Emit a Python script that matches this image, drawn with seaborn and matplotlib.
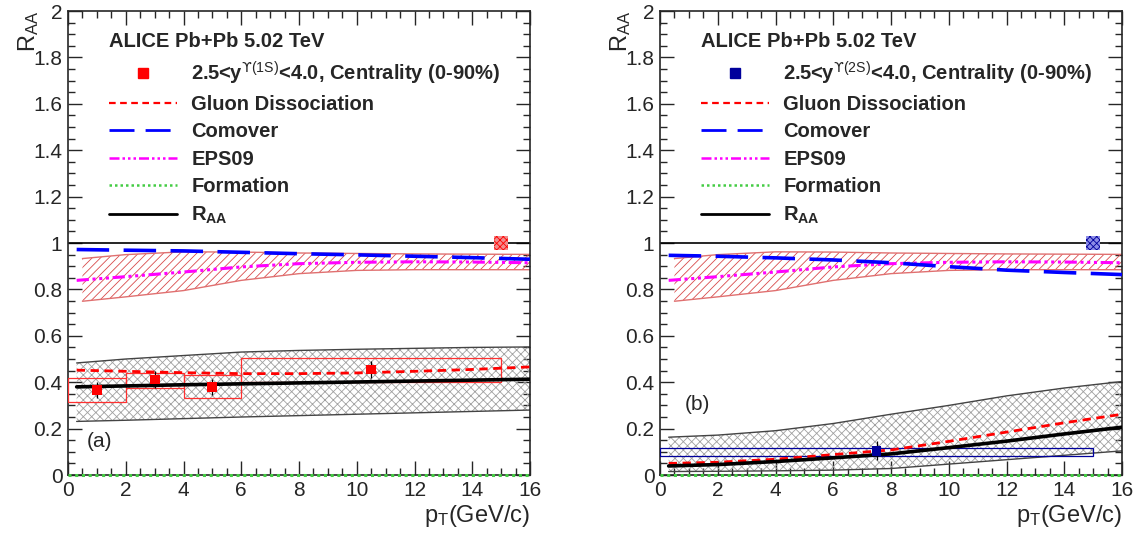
import numpy as np
import matplotlib
matplotlib.use("Agg")
import matplotlib.pyplot as plt
import seaborn as sns
from matplotlib.lines import Line2D
from matplotlib.ticker import MultipleLocator, FormatStrFormatter

# --- data ---
pt = [0.3, 2, 4, 6, 8, 10, 12, 14, 16]
pt_band = [0.5, 2, 4, 6, 8, 10, 12, 14, 16]
pt_formation = [0, 16]
formation = [0, 0]

band_hi = [0.933, 0.950, 0.962, 0.961, 0.957, 0.955, 0.953, 0.952, 0.951]
band_lo = [0.749, 0.768, 0.795, 0.839, 0.868, 0.882, 0.885, 0.885, 0.885]
eps09 = [0.839, 0.855, 0.875, 0.897, 0.911, 0.917, 0.919, 0.918, 0.915]

comover_a = [0.972, 0.969, 0.966, 0.960, 0.954, 0.949, 0.943, 0.937, 0.930]
gluon_a = [0.452, 0.447, 0.441, 0.437, 0.437, 0.440, 0.447, 0.455, 0.466]
raa_a = [0.380, 0.384, 0.389, 0.393, 0.397, 0.401, 0.405, 0.409, 0.413]
gray_hi_a = [0.483, 0.500, 0.515, 0.530, 0.537, 0.542, 0.546, 0.550, 0.552]
gray_lo_a = [0.231, 0.236, 0.243, 0.250, 0.256, 0.262, 0.268, 0.274, 0.280]

comover_b = [0.947, 0.943, 0.936, 0.927, 0.915, 0.898, 0.883, 0.873, 0.864]
gluon_b = [0.050, 0.055, 0.068, 0.088, 0.108, 0.145, 0.185, 0.225, 0.262]
raa_b = [0.039, 0.045, 0.058, 0.074, 0.091, 0.118, 0.146, 0.177, 0.206]
gray_hi_b = [0.163, 0.172, 0.191, 0.222, 0.262, 0.300, 0.341, 0.375, 0.403]
gray_lo_b = [0.015, 0.016, 0.018, 0.021, 0.028, 0.047, 0.066, 0.085, 0.104]

# ALICE points
data_x_a = [1, 3, 5, 10.5]
data_y_a = [0.366, 0.412, 0.380, 0.455]
data_stat_a = [0.035, 0.035, 0.035, 0.035]
sys_lo_a = [0.316, 0.377, 0.330, 0.399]
sys_hi_a = [0.419, 0.440, 0.429, 0.505]
bin_lo_a = [0, 2, 4, 6]
bin_hi_a = [2, 4, 6, 15]

data_x_b = [7.5]
data_y_b = [0.105]
data_stat_b = [0.04]
sys_lo_b = [0.081]
sys_hi_b = [0.118]
bin_lo_b = [0]
bin_hi_b = [15]

glob_x = 15
glob_unc = 0.03

sns.set_style("ticks")
plt.rcParams['font.family'] = ['Liberation Sans', 'DejaVu Sans']
plt.rcParams['mathtext.fontset'] = 'custom'
plt.rcParams['mathtext.rm'] = 'Liberation Sans'
plt.rcParams['mathtext.it'] = 'Liberation Sans:italic'
plt.rcParams['mathtext.bf'] = 'Liberation Sans:bold'
plt.rcParams['mathtext.sf'] = 'DejaVu Sans'
plt.rcParams['mathtext.fallback'] = 'stixsans'
plt.rcParams['hatch.linewidth'] = 0.6

fig = plt.figure(figsize=(11.39, 5.33), dpi=100)
ax_a = fig.add_axes([68 / 1139, 0.1088, 462 / 1139, 0.8705])
ax_b = fig.add_axes([660 / 1139, 0.1088, 462 / 1139, 0.8705])

panels = [
    (ax_a, comover_a, gluon_a, raa_a, gray_hi_a, gray_lo_a,
     data_x_a, data_y_a, data_stat_a, sys_lo_a, sys_hi_a, bin_lo_a, bin_hi_a,
     'red', '#f08c8c', '(a)', (0.041, 0.073), '1S'),
    (ax_b, comover_b, gluon_b, raa_b, gray_hi_b, gray_lo_b,
     data_x_b, data_y_b, data_stat_b, sys_lo_b, sys_hi_b, bin_lo_b, bin_hi_b,
     '#00009c', '#8c8ce6', '(b)', (0.054, 0.151), '2S'),
]

gluon_ls = (0, (3, 2))
comover_ls = (0, (9, 4))
eps_ls = (0, (4, 1.2, 1, 1.2, 1, 1.2, 1, 1.2))
form_ls = (0, (1, 1.2))

for (ax, comover, gluon, raa, g_hi, g_lo, dx, dy, dstat, s_lo, s_hi, b_lo, b_hi,
     pcol, gcol, tag, tagpos, state) in panels:
    ax.axhline(1, color='black', lw=1.2, zorder=1)

    # gray hatched band
    ax.fill_between(pt, g_lo, g_hi, facecolor='none', edgecolor='#a0a0a0',
                    hatch='xxxx', linewidth=0, zorder=1)
    sns.lineplot(x=pt, y=g_hi, ax=ax, color='#444444', lw=1.0, zorder=2)
    sns.lineplot(x=pt, y=g_lo, ax=ax, color='#444444', lw=1.0, zorder=2)

    # red hatched model band
    ax.fill_between(pt_band, band_lo, band_hi, facecolor='none', edgecolor='#d84a4a',
                    hatch='////', linewidth=0, zorder=1)
    sns.lineplot(x=pt_band, y=band_hi, ax=ax, color='#e07070', lw=1.0, zorder=2)
    sns.lineplot(x=pt_band, y=band_lo, ax=ax, color='#e07070', lw=1.0, zorder=2)

    # systematic boxes
    ax.bar(b_lo, np.array(s_hi) - np.array(s_lo), bottom=s_lo,
           width=np.array(b_hi) - np.array(b_lo), align='edge', fill=False,
           edgecolor=pcol if state == '2S' else '#ff3030', lw=0.9, zorder=3)
    # global uncertainty box
    ax.bar([glob_x], [2 * glob_unc], bottom=[1 - glob_unc], width=0.46,
           facecolor=gcol, edgecolor=pcol, hatch='xxxxx', lw=0, zorder=3)

    sns.lineplot(x=pt, y=eps09, ax=ax, color='#ff00ff', lw=2.2, linestyle=eps_ls, zorder=4)
    sns.lineplot(x=pt, y=comover, ax=ax, color='#0000ff', lw=2.6, linestyle=comover_ls, zorder=4)
    sns.lineplot(x=pt, y=gluon, ax=ax, color='#ff0000', lw=2.0, linestyle=gluon_ls, zorder=4)
    sns.lineplot(x=pt, y=raa, ax=ax, color='black', lw=2.6, zorder=4)
    sns.lineplot(x=pt_formation, y=formation, ax=ax, color='#44cc44', lw=2.2,
                 linestyle=form_ls, zorder=5, clip_on=False)

    ax.errorbar(dx, dy, yerr=dstat, fmt='none', ecolor='black', elinewidth=0.9, zorder=5)
    sns.scatterplot(x=dx, y=dy, ax=ax, color=pcol, marker='s', s=50,
                    edgecolor='none', zorder=6)

    ax.set_xlim(0, 16)
    ax.set_ylim(0, 2)
    ax.xaxis.set_major_locator(MultipleLocator(2))
    ax.xaxis.set_minor_locator(MultipleLocator(0.5))
    ax.yaxis.set_major_locator(MultipleLocator(0.2))
    ax.yaxis.set_minor_locator(MultipleLocator(0.05))
    ax.xaxis.set_major_formatter(FormatStrFormatter('%g'))
    ax.yaxis.set_major_formatter(FormatStrFormatter('%g'))
    ax.tick_params(which='both', direction='in', top=True, right=True, labelsize=15,
                   width=1.0)
    ax.tick_params(which='major', length=10)
    ax.tick_params(which='minor', length=5)
    ax.tick_params(axis='x', pad=4)
    ax.tick_params(axis='y', pad=4)
    for sp in ax.spines.values():
        sp.set_linewidth(1.2)
    ax.set_xlabel('')
    ax.set_ylabel('')

    ax.text(-0.085, 1.0, r'R$_{\mathrm{AA}}$', rotation=90, ha='center', va='top',
            fontsize=17, transform=ax.transAxes)
    ax.text(1.0, -0.088, r'p$_{\mathrm{T}}$(GeV/c)', ha='right', va='center',
            fontsize=17, transform=ax.transAxes)
    ax.text(tagpos[0], tagpos[1], tag, ha='left', va='center', fontsize=15,
            transform=ax.transAxes)

    handles = [
        Line2D([], [], color=pcol, marker='s', markersize=7, linestyle='none'),
        Line2D([], [], color='#ff0000', lw=1.6, linestyle=gluon_ls),
        Line2D([], [], color='#0000ff', lw=2.0, linestyle=comover_ls),
        Line2D([], [], color='#ff00ff', lw=1.8, linestyle=eps_ls),
        Line2D([], [], color='#44cc44', lw=1.8, linestyle=form_ls),
        Line2D([], [], color='black', lw=2.0),
    ]
    labels = [
        r'2.5<y$^{\mathsf{ϒ}\mathrm{(' + state + ')}}$<4.0, Centrality (0-90%)',
        'Gluon Dissociation', 'Comover', 'EPS09', 'Formation',
        r'R$_{\mathbf{AA}}$',
    ]
    leg = ax.legend(handles, labels, loc='upper left', bbox_to_anchor=(0.088, 0.955),
                    frameon=False, title='ALICE Pb+Pb 5.02 TeV', alignment='left',
                    prop={'weight': 'bold', 'size': 14.5},
                    title_fontproperties={'weight': 'bold', 'size': 14.5},
                    handlelength=3.4, handletextpad=0.7, labelspacing=0.42,
                    borderaxespad=0, borderpad=0)

fig.savefig('out.png', dpi=100)
